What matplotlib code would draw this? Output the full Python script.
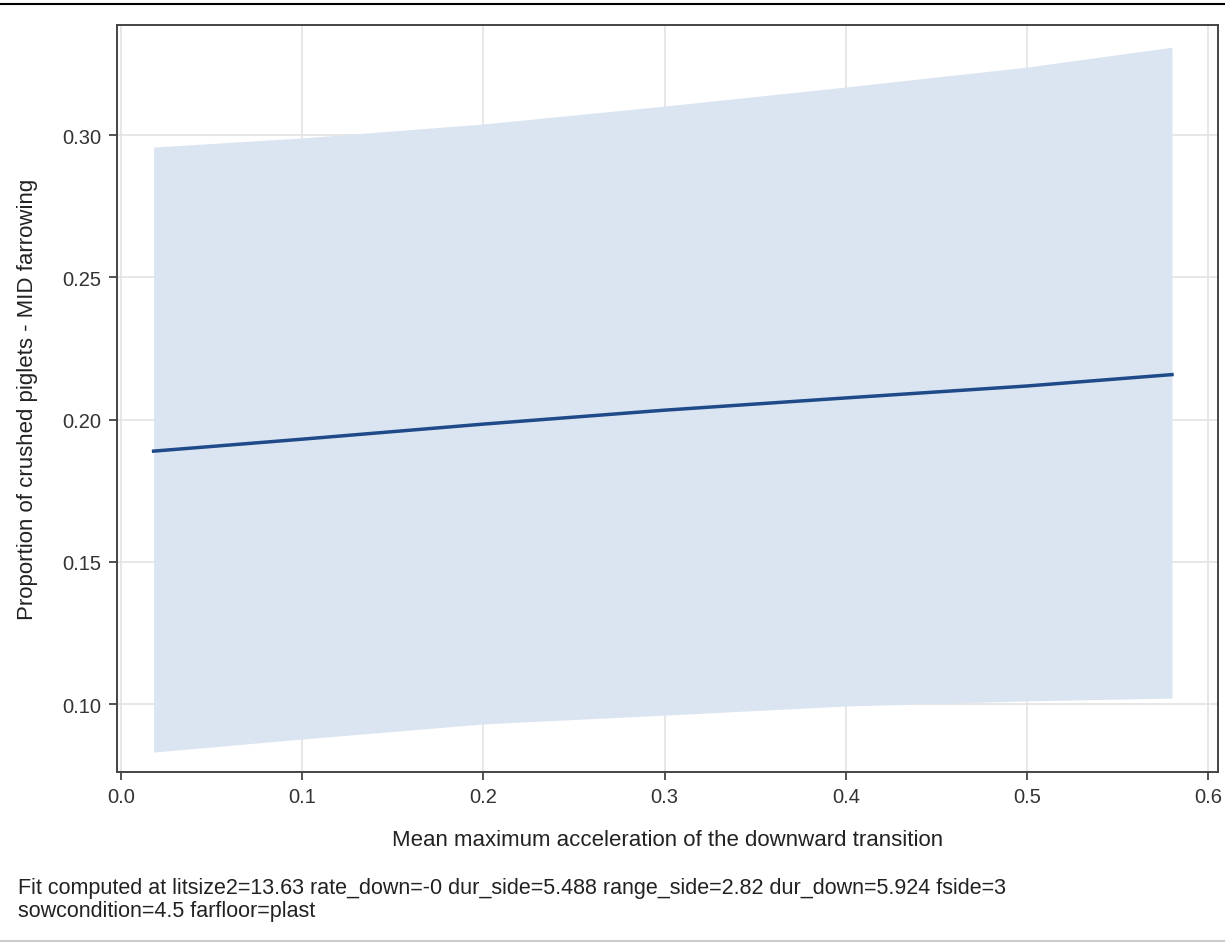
import matplotlib.pyplot as plt
from matplotlib.lines import Line2D

plt.rcParams['font.family'] = ['Liberation Sans', 'DejaVu Sans']

# values
x = [0.018, 0.1, 0.2, 0.3, 0.4, 0.5, 0.58]
fit = [0.1889, 0.1931, 0.1984, 0.2033, 0.2076, 0.2118, 0.2158]
upper = [0.2958, 0.2990, 0.3039, 0.3102, 0.3169, 0.3239, 0.3309]
lower = [0.0831, 0.0877, 0.0930, 0.0961, 0.0993, 0.1011, 0.1021]

xticks = [0.0, 0.1, 0.2, 0.3, 0.4, 0.5, 0.6]
yticks = [0.10, 0.15, 0.20, 0.25, 0.30]

fig = plt.figure(figsize=(12.25, 9.45), dpi=100)
ax = fig.add_axes([0.0955, 0.182, 0.8988, 0.7905])

ax.fill_between(x, lower, upper, color='#dbe5f1', lw=0, zorder=2)
ax.plot(x, fit, color='#1f4a8a', lw=2.5, zorder=3)

ax.set_xlim(-0.0022, 0.6054)
ax.set_ylim(0.0761, 0.3387)
ax.set_xticks(xticks)
ax.set_xticklabels([f'{v:.1f}' for v in xticks])
ax.set_yticks(yticks)
ax.set_yticklabels([f'{v:.2f}' for v in yticks])
ax.grid(True, color='#e3e3e3', lw=1.2, zorder=1)
ax.set_axisbelow(True)

for s in ax.spines.values():
    s.set_color('#444444')
    s.set_linewidth(1.4)
ax.tick_params(direction='out', length=6, width=1.3, color='#444444',
               labelsize=14.5, labelcolor='#333333', pad=5)

ax.set_xlabel('Mean maximum acceleration of the downward transition',
              fontsize=16, color='#222222', labelpad=16)
ax.set_ylabel('Proportion of crushed piglets - MID farrowing',
              fontsize=16, color='#222222', labelpad=18)

fig.text(0.015, 0.071,
         'Fit computed at litsize2=13.63 rate_down=-0 dur_side=5.488 range_side=2.82 dur_down=5.924 fside=3\n'
         'sowcondition=4.5 farfloor=plast',
         fontsize=15.5, color='#222222', va='top', linespacing=1.1)

# outer border lines of the output panel
fig.add_artist(Line2D([0, 1], [0.9945, 0.9945], color='black', lw=1.5))
fig.add_artist(Line2D([0, 1], [0.003, 0.003], color='#cccccc', lw=1.5))

fig.savefig('out.png', dpi=100)
